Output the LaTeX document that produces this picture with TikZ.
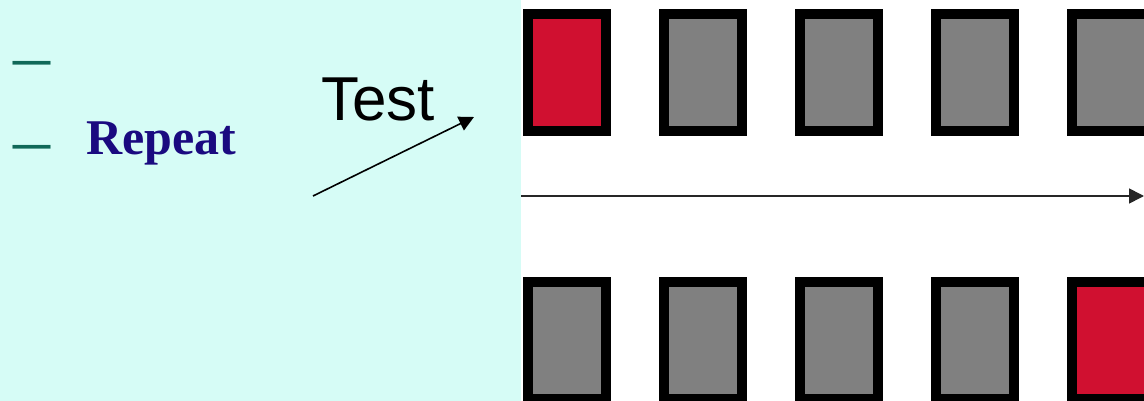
\documentclass[tikz,border=0pt]{standalone}
\usepackage{fontspec}
\usepackage{tikz}
\usetikzlibrary{arrows.meta, positioning}
\newfontfamily\sansfnt{Liberation Sans}
\newfontfamily\seriffnt{Liberation Serif}
\definecolor{panelcyan}{RGB}{214,252,246}
\definecolor{slotred}{RGB}{208,16,48}
\definecolor{slotgray}{RGB}{128,128,128}
\definecolor{dashteal}{RGB}{16,104,88}
\definecolor{repeatblue}{RGB}{26,10,128}
\tikzstyle{slot}=[draw=black,line width=10pt,rectangle,inner sep=0pt,minimum width=78pt,minimum height=117pt,fill=slotgray]
\tikzstyle{hot}=[slot,fill=slotred]
\tikzstyle{every node}=[inner sep=0pt]

\begin{document}
\begin{tikzpicture}[x=1pt,y=-1pt,node distance=136pt,>={Triangle[length=15pt,width=15pt]}]
    \useasboundingbox (0,0) rectangle (1144,401);
    \fill[white] (0,0) rectangle (1144,401);
    \fill[panelcyan] (0,0) rectangle (521,401);
    % bullets
    \node[anchor=base west, text=dashteal, font=\seriffnt\fontsize{74}{80}\selectfont] (b1) at (13,81) {–};
    \node[anchor=base west, text=dashteal, font=\seriffnt\fontsize{74}{80}\selectfont] (b2) at (13,165) {–};
    \node[anchor=base west, text=repeatblue, font=\seriffnt\bfseries\fontsize{50}{60}\selectfont] (rep) at (86,155) {Repeat};
    \node[anchor=base west, font=\sansfnt\fontsize{62}{70}\selectfont] (test) at (321,121) {Test};
    \coordinate (tfrom) at (313,196);
    \coordinate (tto) at (474,117);
    \draw[->, line width=1.6pt] (tfrom) -- (tto);
    % upper row
    \node[hot] (u1) at (567,73) {};
    \node[slot, right of=u1] (u2) {};
    \node[slot, right of=u2] (u3) {};
    \node[slot, right of=u3] (u4) {};
    \node[slot, right of=u4] (u5) {};
    % lower row
    \node[slot] (l1) at (567,340.5) {};
    \node[slot, right of=l1] (l2) {};
    \node[slot, right of=l2] (l3) {};
    \node[slot, right of=l3] (l4) {};
    \node[hot, right of=l4] (l5) {};
    % time line
    \coordinate (tstart) at (521,196);
    \coordinate (tend) at (1144,196);
    \draw[->, line width=1.6pt, black!85] (tstart) -- (tend);
\end{tikzpicture}
\end{document}
